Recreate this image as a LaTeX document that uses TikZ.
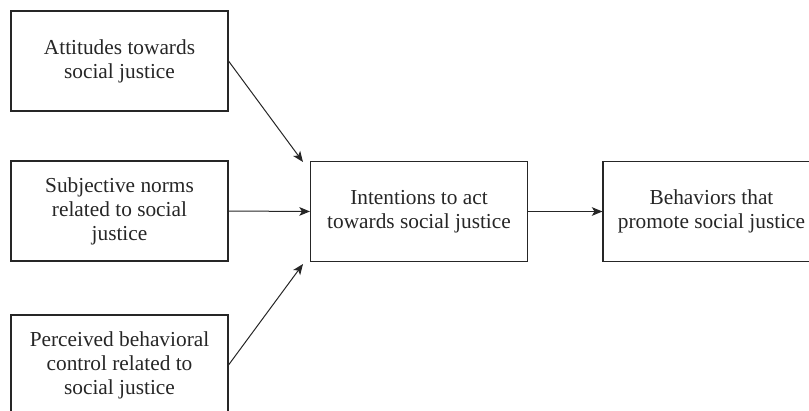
\documentclass[tikz,border=0pt]{standalone}
\usepackage{fontspec}
\setmainfont{Liberation Serif}
\usetikzlibrary{arrows.meta}
\begin{document}
\begin{tikzpicture}[x=0.75pt,y=-0.75pt,
  box/.style={draw=black!85, line width=0.8pt, minimum width=162.75pt, minimum height=75pt,
    inner sep=0pt, align=center, font=\fontsize{16}{18}\selectfont, text=black!85},
  arr/.style={draw=black!85, line width=0.75pt, -{Stealth[length=8pt,width=6.5pt,inset=2pt]}}]
\useasboundingbox (0,0) rectangle (809,410);
\clip (0,0) rectangle (809,410);
\node[box] (a) at (119.5,61) {Attitudes towards\\social justice};
\node[box] (b) at (119.5,211) {Subjective norms\\related to social\\justice};
\node[box] (c) at (119.5,365) {Perceived behavioral\\control related to\\social justice};
\node[box] (m) at (419,211.5) {Intentions to act\\towards social justice};
\node[box] (r) at (711.5,211.5) {Behaviors that\\promote social justice};
\coordinate (t1) at (303,162);
\coordinate (t3) at (303,264);
\draw[arr] (a.east) -- (t1);
\draw[arr] (b.east) -- (m.west);
\draw[arr] (c.east) -- (t3);
\draw[arr] (m.east) -- (r.west);
\end{tikzpicture}
\end{document}
